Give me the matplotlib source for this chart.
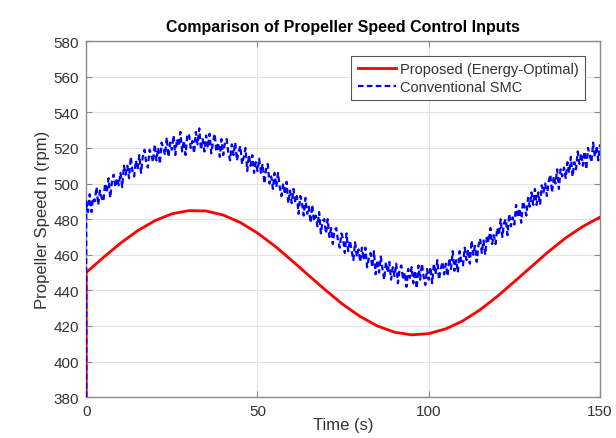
import numpy as np
import matplotlib.pyplot as plt

plt.rcParams['font.family'] = ['Liberation Sans', 'DejaVu Sans']

# Proposed (energy-optimal) speed, read every 5 s
t_red = np.arange(0, 151, 5)
n_red = [450, 458.5, 466.5, 473.5, 479.1, 483.0, 484.8, 484.6, 482.3, 478.1,
         472.2, 465.0, 456.8, 448.3, 439.9, 432.0, 425.3, 420.0, 416.5, 415.0,
         415.7, 418.4, 422.9, 429.1, 436.6, 444.9, 453.4, 461.8, 469.5, 475.9,
         481.1]

# Conventional SMC speed, read every 0.5 s (noisy)
t_blue = np.arange(0, 150.25, 0.5)
n_blue = [
    490, 484, 494, 484, 492, 490, 498, 488, 496, 492,
    490, 500, 495, 503, 492, 501, 505, 498, 503, 499,
    506, 498, 510, 505, 510, 503, 515, 507, 504, 513,
    508, 516, 506, 515, 519, 512, 509, 519, 516, 512,
    522, 513, 520, 511, 523, 520, 516, 526, 515, 523,
    519, 527, 516, 525, 521, 529, 518, 524, 516, 527,
    528, 520, 524, 517, 529, 522, 531, 519, 525, 518,
    527, 520, 528, 517, 523, 528, 518, 523, 515, 525,
    516, 523, 525, 517, 513, 522, 516, 523, 513, 518,
    521, 511, 515, 520, 507, 516, 510, 516, 506, 512,
    507, 514, 506, 511, 500, 508, 511, 500, 504, 497,
    506, 498, 506, 498, 493, 500, 494, 501, 489, 496,
    489, 497, 490, 493, 483, 493, 489, 482, 492, 483,
    487, 478, 488, 479, 482, 476, 484, 472, 479, 480,
    472, 480, 470, 475, 466, 474, 475, 468, 464, 472,
    469, 461, 472, 462, 468, 462, 457, 467, 459, 463,
    456, 464, 457, 464, 453, 458, 461, 453, 462, 449,
    457, 450, 459, 452, 446, 456, 450, 456, 446, 453,
    448, 455, 444, 452, 454, 446, 450, 442, 452, 447,
    453, 444, 451, 441, 454, 446, 455, 448, 443, 452,
    446, 453, 444, 455, 449, 457, 446, 452, 456, 449,
    455, 448, 458, 452, 462, 451, 457, 450, 462, 456,
    454, 464, 457, 463, 455, 468, 460, 465, 456, 465,
    469, 461, 468, 460, 471, 467, 475, 466, 471, 466,
    475, 471, 480, 470, 478, 480, 471, 483, 476, 481,
    477, 488, 481, 486, 478, 490, 487, 482, 492, 487,
    495, 488, 497, 488, 495, 488, 499, 495, 500, 493,
    501, 505, 495, 504, 500, 508, 497, 508, 504, 509,
    503, 512, 506, 515, 504, 512, 508, 518, 511, 517,
    510, 518, 508, 520, 516, 512, 523, 515, 521, 513,
    522]

n_start = 380  # both signals start at this value

fig = plt.figure(figsize=(6.16, 4.39), dpi=100)
ax = fig.add_axes([0.14, 0.093, 0.834, 0.811])

ax.plot(np.r_[0, t_red], np.r_[n_start, n_red], '-', color='red', lw=2,
        label='Proposed (Energy-Optimal)', zorder=3)
ax.plot(np.r_[0, t_blue], np.r_[n_start, n_blue], '--', color='blue', lw=1.6,
        dashes=(2.5, 1.5), label='Conventional SMC', zorder=4)

ax.set_xlim(0, 150)
ax.set_ylim(380, 580)
ax.set_xticks([0, 50, 100, 150])
ax.set_yticks(np.arange(380, 581, 20))
ax.grid(True, color='#e3e3e3', lw=0.8)
ax.set_axisbelow(True)
ax.tick_params(direction='in', top=True, right=True, length=4,
               labelsize=11, colors='#8a8a8a', labelcolor='#333333', pad=5)
for s in ax.spines.values():
    s.set_color('#8a8a8a')
    s.set_linewidth(1.0)

ax.set_title('Comparison of Propeller Speed Control Inputs', fontsize=11.5,
             fontweight='bold', pad=7)
ax.set_xlabel('Time (s)', fontsize=12, color='#333333', labelpad=-1)
ax.set_ylabel('Propeller Speed n (rpm)', fontsize=12, color='#333333',
              labelpad=3)

leg = ax.legend(loc='upper right', fontsize=10.5, fancybox=False,
                edgecolor='#555555', framealpha=1, borderpad=0.45,
                handlelength=2.6, handletextpad=0.3, labelspacing=0.25,
                borderaxespad=1.0)
leg.get_frame().set_linewidth(0.8)
for txt in leg.get_texts():
    txt.set_color('#333333')

fig.savefig('out.png', dpi=100)
